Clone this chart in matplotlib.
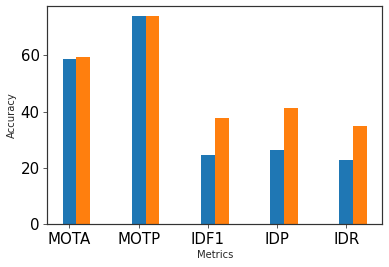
import numpy as np
import matplotlib
matplotlib.use("Agg")
import matplotlib.pyplot as plt

metrics = ["MOTA", "MOTP", "IDF1", "IDP", "IDR"]
series_a = [58.9, 73.9, 24.6, 26.4, 22.9]
series_b = [59.6, 73.9, 37.9, 41.4, 35.0]

dpi = 72
fig = plt.figure(figsize=(389 / dpi, 267 / dpi), dpi=dpi)
ax = fig.add_axes([47.3 / 389, 1 - 224 / 267, (382.3 - 47.3) / 389, (224 - 6) / 267])

x = np.arange(len(metrics))
w = 0.2
ax.bar(x, series_a, w, color="#1f77b4")
ax.bar(x + w, series_b, w, color="#ff7f0e")

ax.set_xticks(x)
ax.set_xticklabels(metrics, fontsize=15)
ax.tick_params(axis="y", labelsize=15)
ax.tick_params(direction="out", length=4, color="#333333")
ax.set_yticks([0, 20, 40, 60])
for s in ax.spines.values():
    s.set_color("#333333")
    s.set_linewidth(1.2)

ax.set_xlabel("Metrics", fontsize=10, color="#262626")
ax.set_ylabel("Accuracy", fontsize=10, color="#262626")

fig.savefig("out.png", dpi=dpi)
